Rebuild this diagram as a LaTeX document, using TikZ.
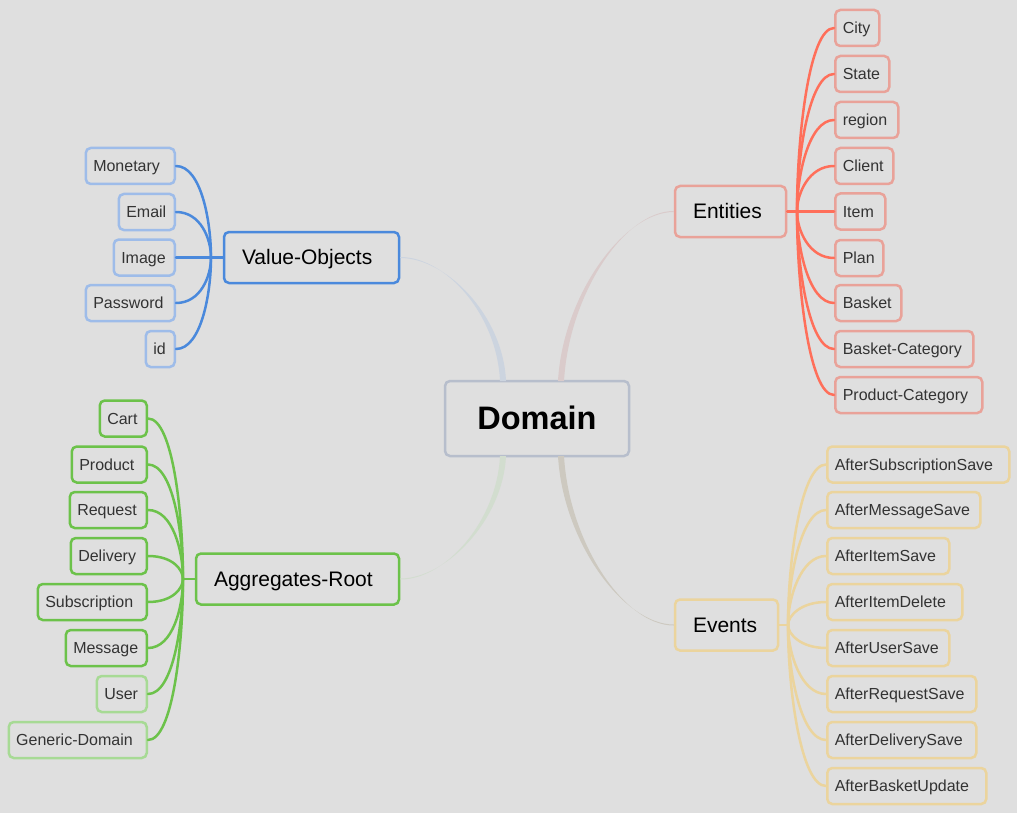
\documentclass[tikz,border=0pt]{standalone}
\usepackage{fontspec}
\setmainfont{Liberation Sans}
\usetikzlibrary{calc}
\definecolor{bg}{HTML}{DFDFDF}
\definecolor{txt}{HTML}{333333}
\definecolor{blueD}{HTML}{4A89DC}
\definecolor{blueL}{HTML}{9EBCE9}
\definecolor{greenD}{HTML}{6CC24A}
\definecolor{greenL}{HTML}{A7DA95}
\definecolor{redC}{HTML}{FF6F5A}
\definecolor{redB}{HTML}{E9A299}
\definecolor{yel}{HTML}{EBD49D}
\definecolor{domB}{HTML}{B7BECC}
\definecolor{mlBlue}{HTML}{CCD4DF}
\definecolor{mlRed}{HTML}{DACBCB}
\definecolor{mlGreen}{HTML}{D2DDCF}
\definecolor{mlTan}{HTML}{CDC9C0}
\newcommand{\fixw}[2]{\makebox[#1pt][l]{#2}}
\begin{document}
\begin{tikzpicture}[x=1pt,y=-1pt,
  box/.style={draw, rounded corners=5pt, line width=2.5pt, fill=bg,
    minimum height=36pt, inner xsep=7.5pt, inner ysep=0pt,
    text height=14pt, text depth=2.6pt,
    font=\fontsize{16}{19}\selectfont, text=txt},
  branchbox/.style={box, minimum height=51pt, inner xsep=18pt,
    text height=18pt, text depth=4pt,
    font=\fontsize{21}{25}\selectfont, text=black},
  rootbox/.style={draw=domB, rounded corners=5pt, line width=2.5pt, fill=bg,
    minimum width=184pt, minimum height=75pt, text height=27pt, text depth=6pt,
    font=\fontsize{32.5}{38}\bfseries\selectfont, text=black},
  leafR/.style={box, anchor=east},
  leafL/.style={box, anchor=west},
  sublink/.style={line width=2.5pt, line cap=round}
]
\useasboundingbox[fill=bg] (0,0) rectangle (1017,813);

% root and branches
\node[rootbox] (domain) at (537,418.5) {Domain};
\node[branchbox, draw=blueD] (vo) at (311.5,257.5) {\fixw{139}{Value-Objects}};
\node[branchbox, draw=greenD] (ar) at (297.5,579) {\fixw{167}{Aggregates-Root}};
\node[branchbox, draw=redB] (ent) at (730.5,211.5) {\fixw{75}{Entities}};
\node[branchbox, draw=yel] (ev) at (726.5,625) {\fixw{67}{Events}};

% attachment points on Domain
\coordinate (dtl) at (503,381);
\coordinate (dtr) at (561,381);
\coordinate (dbl) at (503,456);
\coordinate (dbr) at (561,456);

% tapered main links
\fill[mlBlue] ($(vo.east)+(0,-0.5)$) .. controls ($(vo.east)+(46,-0.5)$) and ($(dtl)+(-6,-66)$) .. ($(dtl)+(-3,0)$)
  -- ($(dtl)+(3,0)$) .. controls ($(dtl)+(0,-66)$) and ($(vo.east)+(46,0.5)$) .. ($(vo.east)+(0,0.5)$) -- cycle;
\fill[mlGreen] ($(ar.east)+(0,0.5)$) .. controls ($(ar.east)+(46,0.5)$) and ($(dbl)+(-6,64)$) .. ($(dbl)+(-3,0)$)
  -- ($(dbl)+(3,0)$) .. controls ($(dbl)+(0,64)$) and ($(ar.east)+(46,-0.5)$) .. ($(ar.east)+(0,-0.5)$) -- cycle;
\fill[mlRed] ($(ent.west)+(0,-0.5)$) .. controls ($(ent.west)+(-50,-0.5)$) and ($(dtr)+(8,-86)$) .. ($(dtr)+(3,0)$)
  -- ($(dtr)+(-3,0)$) .. controls ($(dtr)+(2,-86)$) and ($(ent.west)+(-50,0.5)$) .. ($(ent.west)+(0,0.5)$) -- cycle;
\fill[mlTan] ($(ev.west)+(0,0.5)$) .. controls ($(ev.west)+(-50,0.5)$) and ($(dbr)+(8,86)$) .. ($(dbr)+(3,0)$)
  -- ($(dbr)+(-3,0)$) .. controls ($(dbr)+(2,86)$) and ($(ev.west)+(-50,-0.5)$) .. ($(ev.west)+(0,-0.5)$) -- cycle;

% Value-Objects leaves
\node[leafR, draw=blueL] (monetary) at (176,166) {\fixw{74}{Monetary}};
\node[leafR, draw=blueL] (email) at (176,212) {\fixw{41}{Email}};
\node[leafR, draw=blueL] (image) at (176,257.5) {\fixw{46}{Image}};
\node[leafR, draw=blueL] (password) at (176,303) {\fixw{74}{Password}};
\node[leafR, draw=blueL] (id) at (176,349) {\fixw{14}{id}};

% Entities leaves
\node[leafL, draw=redB] (city) at (834,28) {\fixw{29}{City}};
\node[leafL, draw=redB] (state) at (834,74) {\fixw{39}{State}};
\node[leafL, draw=redB] (region) at (834,120) {\fixw{48}{region}};
\node[leafL, draw=redB] (client) at (834,166) {\fixw{43}{Client}};
\node[leafL, draw=redB] (item) at (834,211.5) {\fixw{35}{Item}};
\node[leafL, draw=redB] (plan) at (834,258) {\fixw{33}{Plan}};
\node[leafL, draw=redB] (basket) at (834,303) {\fixw{51}{Basket}};
\node[leafL, draw=redB] (basketcat) at (834,349) {\fixw{123}{Basket-Category}};
\node[leafL, draw=redB] (productcat) at (834,395) {\fixw{132}{Product-Category}};

% Aggregates leaves
\node[leafR, draw=greenD] (cart) at (148,418.5) {\fixw{32}{Cart}};
\node[leafR, draw=greenD] (product) at (148,464.5) {\fixw{60}{Product}};
\node[leafR, draw=greenD] (request) at (148,510) {\fixw{62}{Request}};
\node[leafR, draw=greenD] (delivery) at (148,556) {\fixw{61}{Delivery}};
\node[leafR, draw=greenD] (subscription) at (148,602) {\fixw{94}{Subscription}};
\node[leafR, draw=greenD] (message) at (148,648) {\fixw{66}{Message}};
\node[leafR, draw=greenL] (user) at (148,694) {\fixw{35}{User}};
\node[leafR, draw=greenL] (generic) at (148,740) {\fixw{123}{Generic-Domain}};

% Events leaves
\node[leafL, draw=yel] (e1) at (826,464.5) {\fixw{167}{AfterSubscriptionSave}};
\node[leafL, draw=yel] (e2) at (826,510) {\fixw{138}{AfterMessageSave}};
\node[leafL, draw=yel] (e3) at (826,556) {\fixw{107}{AfterItemSave}};
\node[leafL, draw=yel] (e4) at (826,602) {\fixw{120}{AfterItemDelete}};
\node[leafL, draw=yel] (e5) at (826,648) {\fixw{107}{AfterUserSave}};
\node[leafL, draw=yel] (e6) at (826,694) {\fixw{134}{AfterRequestSave}};
\node[leafL, draw=yel] (e7) at (826,740) {\fixw{134}{AfterDeliverySave}};
\node[leafL, draw=yel] (e8) at (826,786) {\fixw{144}{AfterBasketUpdate}};

% hubs
\coordinate (vohub) at (211,257.5);
\coordinate (arhub) at (183,579);
\coordinate (enthub) at (797,211.5);
\coordinate (evhub) at (788,625);

\draw[sublink, blueD] (vo.west) -- (vohub);
\foreach \n in {monetary,email,image,password,id}
  \draw[sublink, blueD] (\n.east) .. controls +(25,0) and ($(vohub)!0.4!(vohub |- \n.east)$) .. (vohub);

\draw[sublink, greenD] (ar.west) -- (arhub);
\foreach \n in {cart,product,request,delivery,subscription,message,user,generic}
  \draw[sublink, greenD] (\n.east) .. controls +(25,0) and ($(arhub)!0.4!(arhub |- \n.east)$) .. (arhub);

\draw[sublink, redC] (ent.east) -- (enthub);
\foreach \n in {city,state,region,client,item,plan,basket,basketcat,productcat}
  \draw[sublink, redC] (\n.west) .. controls +(-25,0) and ($(enthub)!0.4!(enthub |- \n.west)$) .. (enthub);

\draw[sublink, yel] (ev.east) -- (evhub);
\foreach \n in {e1,e2,e3,e4,e5,e6,e7,e8}
  \draw[sublink, yel] (\n.west) .. controls +(-25,0) and ($(evhub)!0.4!(evhub |- \n.west)$) .. (evhub);
\end{tikzpicture}
\end{document}
